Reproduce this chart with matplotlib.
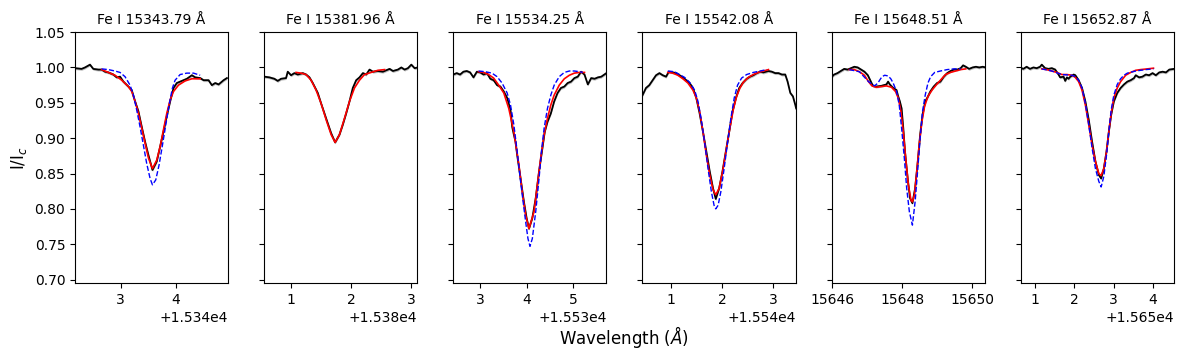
import numpy as np
import matplotlib.pyplot as plt
from matplotlib.ticker import MultipleLocator

# line labels and wavelength base for each panel (data lists are offsets from it)
titles = ["Fe I 15343.79 Å", "Fe I 15381.96 Å", "Fe I 15534.25 Å",
          "Fe I 15542.08 Å", "Fe I 15648.51 Å", "Fe I 15652.87 Å"]
bases = [15340, 15380, 15530, 15540, 15646, 15650]
xlims = [(2.17, 4.95), (0.56, 3.10), (2.42, 5.72), (0.44, 3.44), (-0.01, 4.36), (0.64, 4.53)]
xsteps = [1, 1, 1, 1, 2, 1]
obs_err = 0.002

# observed spectra
obs1_x = [2.169, 2.290, 2.351, 2.442, 2.502, 2.593, 2.654, 2.715, 2.775, 2.866, 2.927, 2.988, 3.048, 3.139,
          3.200, 3.261, 3.321, 3.382, 3.442, 3.503, 3.576, 3.654, 3.715, 3.776, 3.836, 3.897, 3.958, 4.018,
          4.109, 4.200, 4.291, 4.351, 4.442, 4.503, 4.594, 4.654, 4.715, 4.776, 4.867, 4.927]
obs1_y = [0.999, 0.998, 1.000, 1.004, 0.998, 0.997, 0.997, 0.994, 0.993, 0.990, 0.986, 0.987, 0.980, 0.973,
          0.968, 0.952, 0.938, 0.916, 0.895, 0.876, 0.855, 0.867, 0.888, 0.909, 0.931, 0.952, 0.971, 0.978,
          0.981, 0.984, 0.989, 0.986, 0.985, 0.982, 0.982, 0.975, 0.978, 0.976, 0.982, 0.985]
obs2_x = [0.563, 0.646, 0.729, 0.785, 0.840, 0.923, 0.951, 1.006, 1.061, 1.117, 1.200, 1.255, 1.311, 1.366,
          1.449, 1.505, 1.560, 1.615, 1.671, 1.737, 1.809, 1.864, 1.920, 1.975, 2.030, 2.086, 2.141, 2.197,
          2.252, 2.307, 2.363, 2.446, 2.529, 2.584, 2.640, 2.695, 2.778, 2.834, 2.889, 2.944, 3.000, 3.055, 3.105]
obs2_y = [0.987, 0.986, 0.984, 0.981, 0.984, 0.985, 0.994, 0.989, 0.992, 0.990, 0.992, 0.990, 0.986, 0.978,
          0.964, 0.949, 0.935, 0.921, 0.907, 0.894, 0.905, 0.919, 0.935, 0.952, 0.971, 0.982, 0.986, 0.992,
          0.990, 0.997, 0.994, 0.995, 0.994, 0.996, 0.998, 0.995, 0.997, 1.000, 0.997, 0.999, 1.004, 0.999, 1.000]
obs3_x = [2.420, 2.492, 2.565, 2.637, 2.709, 2.782, 2.854, 2.927, 2.999, 3.072, 3.144, 3.217, 3.289, 3.362,
          3.434, 3.507, 3.579, 3.652, 3.688, 3.724, 3.760, 3.796, 3.869, 3.941, 3.999, 4.050, 4.122, 4.195,
          4.267, 4.340, 4.390, 4.448, 4.521, 4.593, 4.666, 4.738, 4.811, 4.883, 4.956, 5.028, 5.101, 5.173,
          5.246, 5.318, 5.390, 5.463, 5.535, 5.608, 5.717]
obs3_y = [0.990, 0.992, 0.990, 0.994, 0.995, 0.993, 0.986, 0.994, 0.993, 0.990, 0.992, 0.984, 0.982, 0.975,
          0.973, 0.966, 0.957, 0.940, 0.916, 0.905, 0.895, 0.876, 0.843, 0.810, 0.787, 0.772, 0.787, 0.815,
          0.853, 0.886, 0.909, 0.923, 0.935, 0.952, 0.964, 0.971, 0.973, 0.978, 0.980, 0.985, 0.987, 0.994,
          0.990, 0.976, 0.985, 0.984, 0.986, 0.987, 0.992]
obs4_x = [0.442, 0.508, 0.573, 0.639, 0.705, 0.771, 0.836, 0.902, 0.955, 1.034, 1.099, 1.165, 1.231, 1.296,
          1.362, 1.428, 1.494, 1.559, 1.625, 1.691, 1.757, 1.822, 1.875, 1.941, 2.007, 2.072, 2.138, 2.204,
          2.270, 2.335, 2.401, 2.480, 2.546, 2.611, 2.677, 2.743, 2.809, 2.907, 2.973, 3.039, 3.104, 3.170,
          3.236, 3.282, 3.335, 3.387, 3.433, 3.450]
obs4_y = [0.961, 0.971, 0.975, 0.982, 0.989, 0.992, 0.989, 0.987, 0.994, 0.993, 0.992, 0.989, 0.986, 0.982,
          0.978, 0.971, 0.957, 0.935, 0.909, 0.881, 0.853, 0.829, 0.814, 0.829, 0.853, 0.881, 0.909, 0.938,
          0.957, 0.971, 0.978, 0.984, 0.987, 0.989, 0.992, 0.994, 0.993, 0.995, 0.994, 0.992, 0.992, 0.990,
          0.990, 0.980, 0.964, 0.959, 0.947, 0.942]
obs5_x = [-0.038, 0.059, 0.155, 0.251, 0.348, 0.444, 0.540, 0.637, 0.733, 0.829, 0.926, 1.022, 1.118, 1.167,
          1.263, 1.408, 1.552, 1.600, 1.648, 1.745, 1.841, 1.889, 1.936, 1.986, 2.034, 2.082, 2.159, 2.226,
          2.294, 2.371, 2.448, 2.515, 2.583, 2.660, 2.737, 2.804, 2.901, 2.997, 3.093, 3.190, 3.286, 3.382,
          3.479, 3.575, 3.671, 3.739, 3.816, 3.912, 4.009, 4.105, 4.201, 4.298, 4.384]
obs5_y = [0.985, 0.990, 0.992, 0.995, 0.998, 0.997, 0.999, 1.001, 1.000, 0.997, 0.994, 0.989, 0.979, 0.974,
          0.973, 0.974, 0.976, 0.980, 0.976, 0.971, 0.968, 0.959, 0.952, 0.942, 0.914, 0.881, 0.843, 0.815,
          0.808, 0.829, 0.867, 0.905, 0.933, 0.952, 0.959, 0.966, 0.973, 0.978, 0.980, 0.987, 0.992, 0.995,
          0.997, 0.997, 0.999, 1.003, 1.001, 0.998, 1.000, 1.001, 1.000, 1.001, 1.000]
obs6_x = [0.616, 0.702, 0.787, 0.872, 0.957, 1.043, 1.128, 1.171, 1.256, 1.341, 1.426, 1.512, 1.597, 1.639,
          1.725, 1.767, 1.810, 1.852, 1.895, 1.980, 2.023, 2.108, 2.194, 2.279, 2.365, 2.450, 2.535, 2.620,
          2.680, 2.748, 2.816, 2.875, 2.935, 3.003, 3.089, 3.174, 3.259, 3.345, 3.430, 3.515, 3.558, 3.643,
          3.728, 3.813, 3.898, 3.984, 4.069, 4.154, 4.240, 4.325, 4.410, 4.529]
obs6_y = [1.000, 0.998, 1.001, 0.998, 1.000, 0.999, 1.001, 1.004, 0.999, 0.998, 0.999, 0.997, 0.990, 0.986,
          0.987, 0.981, 0.986, 0.984, 0.987, 0.990, 0.989, 0.982, 0.971, 0.952, 0.926, 0.895, 0.867, 0.848,
          0.843, 0.857, 0.881, 0.909, 0.933, 0.952, 0.964, 0.971, 0.976, 0.980, 0.982, 0.985, 0.989, 0.986,
          0.987, 0.990, 0.989, 0.992, 0.989, 0.993, 0.994, 0.993, 0.997, 0.998]

# best fit synthetic profiles (red)
fit1_x = [2.654, 2.775, 2.896, 3.018, 3.139, 3.200, 3.261, 3.321, 3.382, 3.442, 3.503, 3.576, 3.654, 3.715,
          3.776, 3.836, 3.897, 3.958, 4.048, 4.169, 4.291, 4.442]
fit1_y = [0.997, 0.993, 0.989, 0.982, 0.973, 0.966, 0.952, 0.935, 0.914, 0.893, 0.872, 0.857, 0.869, 0.888,
          0.912, 0.935, 0.954, 0.966, 0.975, 0.981, 0.984, 0.984]
fit2_x = [1.089, 1.172, 1.255, 1.338, 1.421, 1.505, 1.588, 1.671, 1.737, 1.809, 1.892, 1.975, 2.058, 2.141,
          2.224, 2.335, 2.446, 2.557]
fit2_y = [0.993, 0.992, 0.990, 0.982, 0.968, 0.949, 0.926, 0.905, 0.894, 0.905, 0.928, 0.952, 0.971, 0.982,
          0.990, 0.993, 0.996, 0.997]
fit3_x = [2.963, 3.072, 3.180, 3.289, 3.398, 3.507, 3.615, 3.724, 3.833, 3.905, 3.978, 4.050, 4.159, 4.231,
          4.303, 4.376, 4.448, 4.521, 4.593, 4.702, 4.811, 4.920, 5.028, 5.137, 5.246]
fit3_y = [0.994, 0.993, 0.990, 0.985, 0.975, 0.964, 0.942, 0.909, 0.862, 0.824, 0.791, 0.772, 0.796, 0.834,
          0.872, 0.905, 0.928, 0.947, 0.961, 0.975, 0.984, 0.989, 0.992, 0.993, 0.993]
fit4_x = [0.935, 1.034, 1.132, 1.231, 1.329, 1.428, 1.494, 1.559, 1.625, 1.691, 1.757, 1.822, 1.875, 1.941,
          2.020, 2.085, 2.151, 2.217, 2.283, 2.349, 2.414, 2.513, 2.611, 2.710, 2.809, 2.907]
fit4_y = [0.993, 0.992, 0.989, 0.984, 0.978, 0.968, 0.957, 0.938, 0.909, 0.876, 0.848, 0.827, 0.820, 0.829,
          0.857, 0.886, 0.914, 0.940, 0.959, 0.971, 0.979, 0.986, 0.990, 0.993, 0.995, 0.997]
fit5_x = [0.492, 0.637, 0.781, 0.926, 1.041, 1.138, 1.263, 1.408, 1.552, 1.697, 1.812, 1.889, 1.966, 2.034,
          2.101, 2.178, 2.255, 2.294, 2.352, 2.419, 2.486, 2.564, 2.641, 2.737, 2.853, 2.968, 3.093, 3.238,
          3.382, 3.527, 3.671, 3.816]
fit5_y = [0.997, 0.997, 0.994, 0.989, 0.980, 0.974, 0.972, 0.973, 0.974, 0.972, 0.966, 0.957, 0.938, 0.909,
          0.872, 0.834, 0.812, 0.810, 0.820, 0.853, 0.890, 0.923, 0.945, 0.959, 0.968, 0.975, 0.982, 0.990,
          0.993, 0.995, 0.997, 0.998]
fit6_x = [1.171, 1.298, 1.426, 1.554, 1.682, 1.810, 1.938, 2.023, 2.108, 2.194, 2.279, 2.365, 2.450, 2.535,
          2.620, 2.680, 2.748, 2.816, 2.875, 2.935, 3.003, 3.089, 3.174, 3.302, 3.430, 3.558, 3.685, 3.856, 4.009]
fit6_y = [0.998, 0.997, 0.995, 0.993, 0.990, 0.990, 0.989, 0.986, 0.980, 0.968, 0.947, 0.919, 0.890, 0.867,
          0.850, 0.847, 0.857, 0.881, 0.909, 0.935, 0.957, 0.971, 0.980, 0.989, 0.993, 0.996, 0.997, 0.998, 0.999]

# initial model profiles (blue dashed), none for the second line
ini1_x = [2.654, 2.775, 2.896, 2.987, 3.078, 3.169, 3.230, 3.290, 3.351, 3.412, 3.472, 3.533, 3.576, 3.636,
          3.696, 3.757, 3.818, 3.878, 3.939, 3.987, 4.078, 4.199, 4.321, 4.442]
ini1_y = [0.998, 0.997, 0.995, 0.993, 0.987, 0.975, 0.961, 0.940, 0.916, 0.890, 0.864, 0.843, 0.834, 0.841,
          0.862, 0.890, 0.919, 0.947, 0.971, 0.982, 0.990, 0.992, 0.992, 0.989]
ini3_x = [2.963, 3.108, 3.253, 3.362, 3.470, 3.579, 3.652, 3.724, 3.796, 3.869, 3.905, 3.978, 4.028, 4.072,
          4.122, 4.195, 4.267, 4.318, 4.376, 4.448, 4.521, 4.593, 4.702, 4.811, 4.920, 5.028, 5.137, 5.210]
ini3_y = [0.995, 0.994, 0.992, 0.987, 0.978, 0.964, 0.947, 0.919, 0.881, 0.839, 0.820, 0.782, 0.758, 0.747,
          0.758, 0.796, 0.843, 0.881, 0.914, 0.942, 0.961, 0.975, 0.987, 0.993, 0.995, 0.995, 0.994, 0.993]
ini4_x = [0.935, 1.066, 1.165, 1.264, 1.362, 1.461, 1.527, 1.592, 1.658, 1.724, 1.790, 1.842, 1.875, 1.921,
          1.974, 2.039, 2.105, 2.171, 2.237, 2.302, 2.381, 2.480, 2.611, 2.743, 2.874]
ini4_y = [0.995, 0.994, 0.990, 0.986, 0.979, 0.968, 0.952, 0.926, 0.893, 0.857, 0.824, 0.805, 0.800, 0.805,
          0.824, 0.857, 0.893, 0.928, 0.957, 0.975, 0.985, 0.990, 0.993, 0.995, 0.997]
ini5_x = [0.492, 0.781, 1.041, 1.215, 1.311, 1.359, 1.427, 1.504, 1.600, 1.677, 1.745, 1.841, 1.918, 1.986,
          2.063, 2.131, 2.207, 2.294, 2.371, 2.448, 2.515, 2.583, 2.660, 2.737, 2.814, 2.930, 3.093, 3.286,
          3.479, 3.671]
ini5_y = [0.997, 0.994, 0.980, 0.974, 0.978, 0.982, 0.987, 0.989, 0.988, 0.984, 0.978, 0.966, 0.947, 0.914,
          0.872, 0.829, 0.796, 0.777, 0.810, 0.857, 0.900, 0.938, 0.961, 0.978, 0.987, 0.993, 0.995, 0.997,
          0.998, 0.998]
ini6_x = [1.171, 1.426, 1.682, 1.938, 2.023, 2.108, 2.194, 2.279, 2.365, 2.450, 2.535, 2.620, 2.680, 2.748,
          2.816, 2.875, 2.935, 3.003, 3.089, 3.174, 3.259, 3.345, 3.558, 3.813, 4.009]
ini6_y = [0.998, 0.995, 0.990, 0.989, 0.987, 0.982, 0.971, 0.949, 0.919, 0.886, 0.857, 0.839, 0.831, 0.846,
          0.876, 0.909, 0.940, 0.961, 0.976, 0.984, 0.989, 0.992, 0.995, 0.997, 0.998]

obs = [(obs1_x, obs1_y), (obs2_x, obs2_y), (obs3_x, obs3_y), (obs4_x, obs4_y), (obs5_x, obs5_y), (obs6_x, obs6_y)]
fits = [(fit1_x, fit1_y), (fit2_x, fit2_y), (fit3_x, fit3_y), (fit4_x, fit4_y), (fit5_x, fit5_y), (fit6_x, fit6_y)]
inis = [(ini1_x, ini1_y), None, (ini3_x, ini3_y), (ini4_x, ini4_y), (ini5_x, ini5_y), (ini6_x, ini6_y)]

fig, axes = plt.subplots(1, 6, figsize=(11.96, 3.53), dpi=100, sharey=True)
fig.subplots_adjust(left=0.0627, right=0.9816, top=0.909, bottom=0.198, wspace=0.235)

for i, ax in enumerate(axes):
    base = bases[i]
    ox = base + np.array(obs[i][0])
    oy = np.array(obs[i][1])
    ax.fill_between(ox, oy - obs_err, oy + obs_err, color="grey", alpha=0.5, lw=0)
    ax.plot(ox, oy, color="black", lw=1.3)
    ax.plot(base + np.array(fits[i][0]), fits[i][1], color="red", lw=1.2)
    if inis[i] is not None:
        ax.plot(base + np.array(inis[i][0]), inis[i][1], color="blue", ls="--", lw=1.0)
    ax.set_xlim(base + xlims[i][0], base + xlims[i][1])
    ax.xaxis.set_major_locator(MultipleLocator(xsteps[i]))
    ax.set_title(titles[i], fontsize=10)
    ax.tick_params(labelsize=10)
    ax.xaxis.get_offset_text().set_fontsize(10)

axes[0].set_ylim(0.695, 1.05)
axes[0].set_yticks(np.arange(0.70, 1.051, 0.05))
axes[0].set_ylabel("I/I$_c$", fontsize=12)
fig.text(0.522, 0.045, "Wavelength ($\\AA$)", ha="center", va="center", fontsize=12)

plt.savefig("out.png")
plt.close()
